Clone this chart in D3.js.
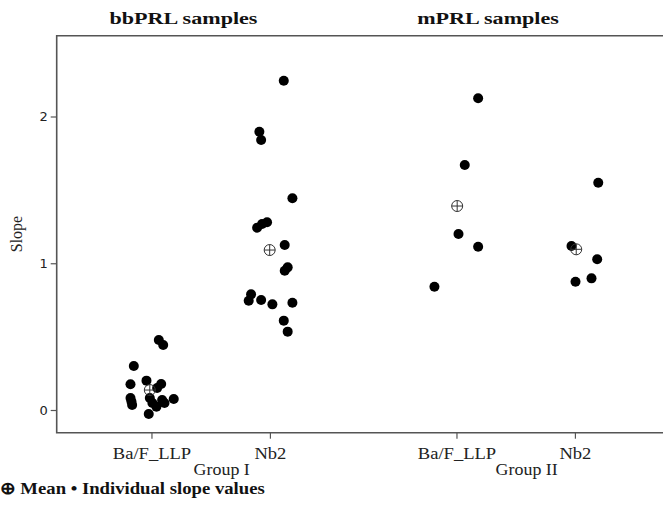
<!DOCTYPE html>
<html>
<head>
<meta charset="utf-8">
<script src="https://cdn.jsdelivr.net/npm/d3@7/dist/d3.min.js"></script>
<style>
  body { margin: 0; background: #fff; }
  svg { display: block; font-family: 'Liberation Serif', 'Times New Roman', serif; }
  .ytick text { font-family: 'DejaVu Sans', sans-serif; font-size: 13px; fill: #222; }
</style>
</head>
<body>
<div id="chart"></div>
<script>
// categories along the x axis and where they sit
const categories = ['Ba/F_LLP', 'Nb2', 'Ba/F_LLP', 'Nb2']
const catPos = [1, 2, 3.575, 4.575]
const groups = ['Group I', 'Group II']
const panels = ['bbPRL samples', 'mPRL samples']
const yTicks = [0, 1, 2]

// individual slopes: [jitter off the category, slope]
const bafGroup1 = [
  [0.062, 0.477], [0.099, 0.443], [-0.149, 0.300], [-0.177, 0.175],
  [-0.042, 0.200], [0.082, 0.177], [0.048, 0.150], [-0.177, 0.082],
  [-0.163, 0.034], [-0.169, 0.058], [-0.014, 0.082], [0.090, 0.068],
  [0.110, 0.048], [0.188, 0.075], [0.042, 0.022], [-0.023, -0.027],
  [0.008, 0.048]
]
const nb2Group1 = [
  [0.117, 2.244], [-0.089, 1.896], [-0.074, 1.840], [0.190, 1.443],
  [-0.024, 1.279], [-0.066, 1.267], [-0.108, 1.242], [0.125, 1.124],
  [0.150, 0.972], [0.125, 0.949], [-0.159, 0.788], [-0.179, 0.745],
  [-0.074, 0.750], [0.021, 0.720], [0.190, 0.731], [0.117, 0.609],
  [0.150, 0.534]
]
const bafGroup2 = [
  [0.183, 2.124], [0.070, 1.670], [0.017, 1.199], [0.183, 1.113], [-0.186, 0.840]
]
const nb2Group2 = [
  [0.197, 1.549], [-0.029, 1.118], [0.188, 1.027], [0.140, 0.897], [0.005, 0.874]
]
const means = [0.136, 1.090, 1.390, 1.095]
const meanJitter = [-0.014, -0.002, 0.006, 0.011]

const W = 663
const H = 525
const plotLeft = 56.7
const plotTop = 35.7
const plotBottom = 432.7
const unit = 118.45

const svg = d3.select('#chart').append('svg')
  .attr('width', W)
  .attr('height', H)

const x = d3.scaleLinear().domain([0.2, 5.6]).range([plotLeft, plotLeft + 5.4 * unit])
const y = d3.scaleLinear()
  .domain([(410 - plotBottom) / 146.75, (410 - plotTop) / 146.75])
  .range([plotBottom, plotTop])

// frame (right side runs off the picture)
svg.append('path')
  .attr('d', `M${W + 10},${plotTop}H${plotLeft}V${plotBottom}H${W + 10}`)
  .attr('fill', 'none')
  .attr('stroke', '#555')
  .attr('stroke-width', 1.6)

// y axis
const yAxis = svg.append('g')
  .attr('class', 'ytick')
  .attr('transform', `translate(${plotLeft},0)`)
  .call(d3.axisLeft(y).tickValues(yTicks).tickSize(6).tickPadding(3).tickFormat(d3.format('d')))
yAxis.select('.domain').remove()
yAxis.selectAll('line').attr('stroke', '#555').attr('stroke-width', 1.2)

// x axis
const xAxis = svg.append('g')
  .attr('transform', `translate(0,${plotBottom})`)
  .call(d3.axisBottom(x).tickValues(catPos).tickSize(6).tickPadding(9).tickFormat((d, i) => categories[i]))
xAxis.select('.domain').remove()
xAxis.selectAll('line').attr('stroke', '#555').attr('stroke-width', 1.2)
xAxis.selectAll('text')
  .attr('font-family', 'Liberation Serif, serif')
  .attr('font-size', 16)
  .attr('fill', '#222')
  .attr('transform', 'scale(1.16,1)')

// group labels under the ticks
const groupMid = [(catPos[0] + catPos[1]) / 2, (catPos[2] + catPos[3]) / 2]
svg.selectAll('.group')
  .data(groups)
  .enter()
  .append('g')
    .attr('transform', (d, i) => `translate(${x(groupMid[i]) + 11},475)`)
    .append('text')
      .attr('text-anchor', 'middle')
      .attr('font-size', 16)
      .attr('fill', '#222')
      .attr('transform', 'scale(1.12,1)')
      .text(d => d)

// panel titles
const titleX = [183.5, 488]
svg.selectAll('.panel')
  .data(panels)
  .enter()
  .append('g')
    .attr('transform', (d, i) => `translate(${titleX[i]},24)`)
    .append('text')
      .attr('text-anchor', 'middle')
      .attr('font-size', 17)
      .attr('font-weight', 'bold')
      .attr('fill', '#111')
      .attr('transform', 'scale(1.3,1)')
      .text(d => d)

// y title
svg.append('text')
  .attr('transform', `translate(22,234) rotate(-90)`)
  .attr('text-anchor', 'middle')
  .attr('font-size', 16)
  .attr('fill', '#222')
  .text('Slope')

// points
const sets = [bafGroup1, nb2Group1, bafGroup2, nb2Group2]
sets.forEach((set, i) => {
  svg.append('g').selectAll('circle')
    .data(set)
    .enter()
    .append('circle')
      .attr('cx', d => x(catPos[i] + d[0]))
      .attr('cy', d => y(d[1]))
      .attr('r', 5)
      .attr('fill', '#000')
})

// means: circle with a cross
const r = 5.5
const mg = svg.append('g').selectAll('g')
  .data(means)
  .enter()
  .append('g')
    .attr('transform', (d, i) => `translate(${x(catPos[i] + meanJitter[i])},${y(d)})`)
mg.append('circle')
  .attr('r', r)
  .attr('fill', 'none')
  .attr('stroke', '#333')
  .attr('stroke-width', 1)
mg.append('path')
  .attr('d', `M${-r},0H${r}M0,${-r}V${r}`)
  .attr('stroke', '#333')
  .attr('stroke-width', 1)

// legend
svg.append('g')
  .attr('transform', 'translate(0,494)')
  .append('text')
    .attr('font-size', 17)
    .attr('font-weight', 'bold')
    .attr('fill', '#111')
    .attr('transform', 'scale(1.1,1)')
    .text('\u2295 Mean \u2022 Individual slope values')
</script>
</body>
</html>
